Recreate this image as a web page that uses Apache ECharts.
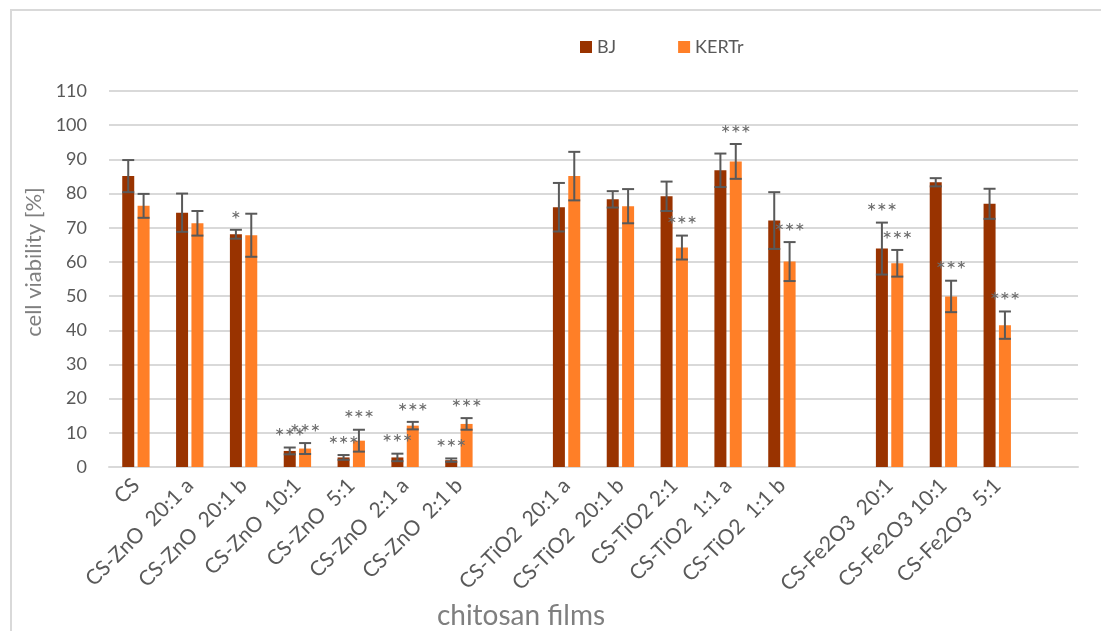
<!DOCTYPE html>
<html>
<head>
<meta charset="utf-8">
<title>cell viability</title>
<script src="https://cdn.jsdelivr.net/npm/echarts@6/dist/echarts.min.js"></script>
<style>
  html, body { margin: 0; padding: 0; background: #fff; }
  #chart { width: 1101px; height: 631px; }
</style>
</head>
<body>
<div id="chart"></div>
<script>
// Chitosan film groups; empty names leave spacer slots between the groups
const categories = [
  'CS', 'CS-ZnO  20:1 a', 'CS-ZnO  20:1 b', 'CS-ZnO  10:1', 'CS-ZnO  5:1', 'CS-ZnO  2:1 a', 'CS-ZnO  2:1 b',
  '',
  'CS-TiO2  20:1 a', 'CS-TiO2  20:1 b', 'CS-TiO2 2:1', 'CS-TiO2  1:1 a', 'CS-TiO2  1:1 b',
  '',
  'CS-Fe2O3  20:1', 'CS-Fe2O3 10:1', 'CS-Fe2O3  5:1',
  ''
];

// Mean cell viability [%]
const bjValues    = [85.1, 74.4, 68.1, 4.7, 2.8, 2.8, 2.0, null, 76.0, 78.3, 79.2, 86.8, 72.1, null, 63.9, 83.3, 77.0, null];
const kertrValues = [76.4, 71.3, 67.8, 5.4, 7.7, 12.1, 12.6, null, 85.1, 76.3, 64.2, 89.4, 60.1, null, 59.6, 49.9, 41.5, null];

// Standard deviations
const bjErrors    = [4.7, 5.6, 1.3, 1.0, 0.7, 1.1, 0.5, null, 7.1, 2.4, 4.3, 4.9, 8.3, null, 7.6, 1.2, 4.4, null];
const kertrErrors = [3.5, 3.6, 6.3, 1.6, 3.2, 1.1, 1.7, null, 7.1, 5.0, 3.5, 5.1, 5.7, null, 3.9, 4.6, 4.0, null];

// Significance marks
const bjStars    = ['', '', '*', '***', '***', '***', '***', '', '', '', '', '', '', '', '***', '', '', ''];
const kertrStars = ['', '', '', '***', '***', '***', '***', '', '', '', '***', '***', '***', '', '***', '***', '***', ''];

const yTicks = { min: 0, max: 110, interval: 10 };

const BAR_W = 12;
const BAR_GAP = 0.28;           // fraction of bar width
const HALF_STEP = (BAR_W * (1 + BAR_GAP)) / 2;
const FONT = 'Lato, "Open Sans", sans-serif';
const TEXT = '#595959';
const GRID = '#d9d9d9';

function errorItems(values, errors) {
  const out = [];
  values.forEach((v, i) => {
    if (v != null) out.push([i, v, errors[i]]);
  });
  return out;
}

function errorRender(shift, stars) {
  return function (params, api) {
    const i = api.value(0);
    const v = api.value(1);
    const e = api.value(2);
    const star = stars[i];
    const top = api.coord([i, v + e]);
    const bot = api.coord([i, v - e]);
    const x = top[0] + shift;
    const cap = BAR_W / 2;
    const stroke = { stroke: TEXT, lineWidth: 2 };
    const children = [
      { type: 'line', shape: { x1: x, y1: top[1], x2: x, y2: bot[1] }, style: stroke },
      { type: 'line', shape: { x1: x - cap, y1: top[1], x2: x + cap, y2: top[1] }, style: stroke },
      { type: 'line', shape: { x1: x - cap, y1: bot[1], x2: x + cap, y2: bot[1] }, style: stroke }
    ];
    if (star) {
      children.push({
        type: 'text',
        x: x,
        y: top[1] + 2,
        style: {
          text: star,
          fill: '#6b6b6b',
          font: '24px ' + FONT,
          align: 'center',
          verticalAlign: 'bottom'
        }
      });
    }
    return { type: 'group', children: children };
  };
}

const chart = echarts.init(document.getElementById('chart'), null, { renderer: 'canvas' });

chart.setOption({
  animation: false,
  backgroundColor: '#fff',
  textStyle: { fontFamily: FONT },
  graphic: [{
    type: 'rect',
    shape: { x: 11, y: 10, width: 1300, height: 1000 },
    style: { fill: 'none', stroke: GRID, lineWidth: 2 },
    silent: true
  }],
  legend: {
    top: 38,
    left: 580,
    padding: 0,
    itemWidth: 12,
    itemHeight: 12,
    itemGap: 62,
    icon: 'rect',
    textStyle: { color: TEXT, fontSize: 18, fontFamily: FONT },
    data: ['BJ', 'KERTr']
  },
  grid: { left: 109, right: 23, top: 91, bottom: 164, outerBoundsMode: 'none', containLabel: false },
  xAxis: {
    type: 'category',
    data: categories,
    name: 'chitosan films',
    nameLocation: 'middle',
    nameGap: 132,
    nameTextStyle: { color: '#7f7f7f', fontSize: 28, fontFamily: FONT, padding: [0, 145, 0, 0] },
    axisLine: { lineStyle: { color: GRID, width: 2 } },
    axisTick: { show: false },
    axisLabel: { rotate: 45, interval: 0, color: TEXT, fontSize: 21, margin: 15, fontFamily: FONT },
    splitLine: { show: false }
  },
  yAxis: {
    type: 'value',
    min: yTicks.min,
    max: yTicks.max,
    interval: yTicks.interval,
    name: 'cell viability [%]',
    nameLocation: 'middle',
    nameGap: 54,
    nameTextStyle: { color: '#7f7f7f', fontSize: 22, fontFamily: FONT, padding: [0, 0, 0, 34] },
    axisLine: { show: false },
    axisTick: { show: false },
    axisLabel: { color: TEXT, fontSize: 18, margin: 22, fontFamily: FONT },
    splitLine: { lineStyle: { color: GRID, width: 2 } }
  },
  series: [
    {
      name: 'BJ', type: 'bar', data: bjValues,
      barWidth: BAR_W, barGap: (BAR_GAP * 100) + '%',
      itemStyle: { color: '#993300' }
    },
    {
      name: 'KERTr', type: 'bar', data: kertrValues,
      barWidth: BAR_W, barGap: (BAR_GAP * 100) + '%',
      itemStyle: { color: '#ff7f27' }
    },
    {
      name: 'BJ error', type: 'custom', data: errorItems(bjValues, bjErrors),
      renderItem: errorRender(-HALF_STEP, bjStars), z: 5, silent: true
    },
    {
      name: 'KERTr error', type: 'custom', data: errorItems(kertrValues, kertrErrors),
      renderItem: errorRender(HALF_STEP, kertrStars), z: 5, silent: true
    }
  ]
});
</script>
</body>
</html>
